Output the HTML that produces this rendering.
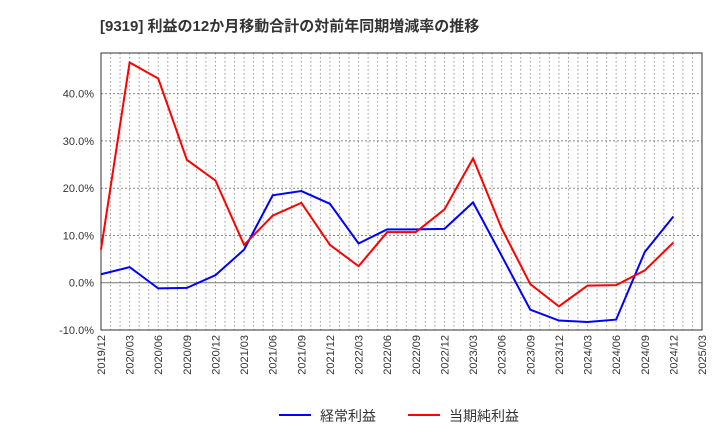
<!DOCTYPE html>
<html><head><meta charset="utf-8"><style>
body{margin:0;background:#fff;font-family:"Liberation Sans","Noto Sans CJK JP",sans-serif}
svg text{font-family:"Liberation Sans","Noto Sans CJK JP",sans-serif}
</style></head><body>
<svg id="c" width="720" height="440">
<text x="100" y="31" font-size="15" font-weight="bold" fill="#333">[9319]  利益の12か月移動合計の対前年同期増減率の推移</text>
<g id="grid"></g><g id="axes"></g><g id="series"></g>
<g>
<line x1="279" y1="415" x2="311" y2="415" stroke="#0000ff" stroke-width="2"/>
<text x="320" y="421" font-size="14" fill="#333">経常利益</text>
<line x1="408" y1="415" x2="440" y2="415" stroke="#ff0000" stroke-width="2"/>
<text x="449" y="421" font-size="14" fill="#333">当期純利益</text>
</g>
</svg>
<script>
const categories=["2019/12","2020/03","2020/06","2020/09","2020/12","2021/03","2021/06","2021/09","2021/12","2022/03","2022/06","2022/09","2022/12","2023/03","2023/06","2023/09","2023/12","2024/03","2024/06","2024/09","2024/12","2025/03"];
const keijo=[1.8,3.3,-1.2,-1.1,1.6,7.0,18.5,19.4,16.7,8.3,11.3,11.3,11.4,17.0,5.7,-5.7,-8.0,-8.3,-7.8,6.5,14.0];
const junrieki=[7.0,46.6,43.2,26.0,21.6,8.0,14.2,16.9,8.0,3.5,10.7,10.7,15.5,26.3,11.5,-0.3,-5.0,-0.6,-0.5,2.6,8.5];
const yTicks=[-10,0,10,20,30,40];
const L=101,R=702,T=53,B=330,yMin=-10,yMax=48.6;
const x=i=>L+(R-L)*i/(categories.length-1);
const y=v=>B-(B-T)*(v-yMin)/(yMax-yMin);
const NS="http://www.w3.org/2000/svg";
function mk(t,a,p){const e=document.createElementNS(NS,t);for(const k in a)e.setAttribute(k,a[k]);p.appendChild(e);return e;}
const g=document.getElementById('grid'),ax=document.getElementById('axes'),s=document.getElementById('series');
const nm=(categories.length-1)*3;
for(let m=1;m<nm;m++){const xx=L+(R-L)*m/nm;const l=mk('line',{x1:xx,x2:xx,y1:T,y2:B,stroke:'#999','stroke-dasharray':'1.5,2.5'},g);

}
yTicks.forEach(v=>{const yy=y(v);
const l=mk('line',{x1:L,x2:R,y1:yy,y2:yy,stroke:v===0?'#777':'#888','stroke-dasharray':v===0?'':'2,2'},g);


const t=mk('text',{x:L-7,y:yy+4,'text-anchor':'end','font-size':11,fill:'#333'},ax);t.textContent=v.toFixed(1)+'%';

});
const r=mk('rect',{x:L,y:T,width:R-L,height:B-T,fill:'none',stroke:'#333'},ax);


categories.forEach((c,i)=>{const xx=x(i);const t=mk('text',{x:xx+4,y:B+5,'text-anchor':'end','font-size':11,fill:'#333',transform:`rotate(-90 ${xx+4} ${B+5})`},ax);t.textContent=c;

});
function line(d,col,name){const p=mk('polyline',{points:d.map((v,i)=>x(i)+','+y(v)).join(' '),fill:'none',stroke:col,'stroke-width':2},s);

}
line(keijo,'#0000ff','keijo-line');
line(junrieki,'#ff0000','junrieki-line');
</script>
</body></html>
